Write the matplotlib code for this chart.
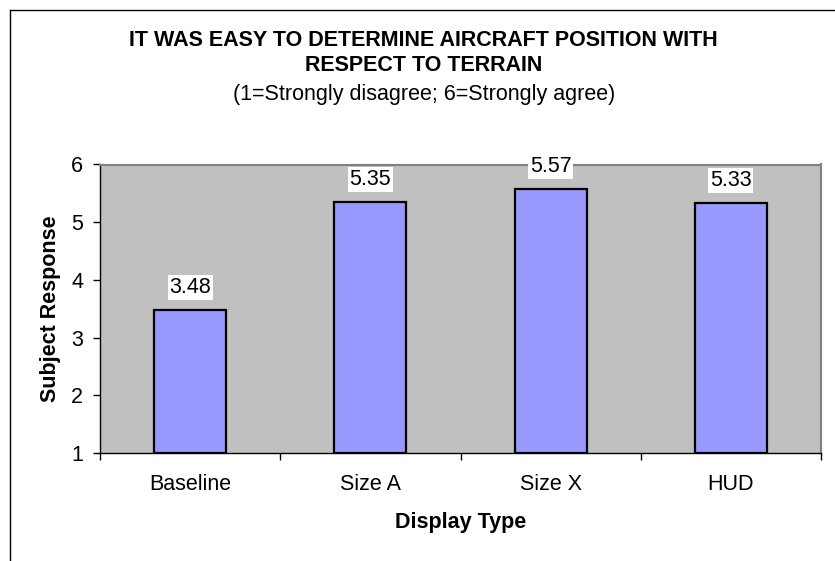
import matplotlib
matplotlib.use("Agg")
import matplotlib.pyplot as plt
from matplotlib.lines import Line2D

plt.rcParams['font.family'] = ['Liberation Sans', 'DejaVu Sans']

categories = ["Baseline", "Size A", "Size X", "HUD"]
values = [3.48, 5.35, 5.57, 5.33]
y_ticks = [1, 2, 3, 4, 5, 6]

FS = 15.5
W, H = 835, 561
fig = plt.figure(figsize=(W / 100, H / 100), dpi=100)
fig.patch.set_facecolor("white")

# outer chart frame (top and left edges visible)
fig.add_artist(Line2D([10 / W, 1.0], [1 - 10 / H, 1 - 10 / H], color="black", lw=1.0, transform=fig.transFigure))
fig.add_artist(Line2D([10 / W, 10 / W], [1 - 10 / H, 0.0], color="black", lw=1.0, transform=fig.transFigure))

left, right, top, bottom = 100, 821, 164.5, 453
ax = fig.add_axes([left / W, 1 - bottom / H, (right - left) / W, (bottom - top) / H])
ax.set_facecolor("#C0C0C0")

x = [i + 0.5 for i in range(len(categories))]
ax.bar(x, [v - 1 for v in values], bottom=1, width=0.4, color="#9999FF",
       edgecolor="black", linewidth=1.6, zorder=2)

ax.set_xlim(0, len(categories))
ax.set_ylim(1, 6)
ax.set_yticks(y_ticks)
ax.set_yticklabels([str(t) for t in y_ticks], fontsize=FS)

ax.set_xticks(range(len(categories) + 1))
ax.set_xticklabels([])
ax.set_xticks(x, minor=True)
ax.set_xticklabels(categories, minor=True, fontsize=FS)
ax.tick_params(axis="x", which="major", direction="out", length=5, width=1)
ax.tick_params(axis="x", which="minor", length=0, pad=15)
ax.tick_params(axis="y", direction="out", length=5, width=1, pad=7)

for s in ["left", "bottom"]:
    ax.spines[s].set_color("black")
    ax.spines[s].set_linewidth(1.0)
for s in ["top", "right"]:
    ax.spines[s].set_color("#808080")
    ax.spines[s].set_linewidth(1.5)

for xi, v in zip(x, values):
    ax.annotate(f"{v:.2f}", xy=(xi, v), xytext=(0, 17), textcoords="offset pixels",
                ha="center", va="baseline", fontsize=FS, zorder=5, annotation_clip=False,
                bbox=dict(boxstyle="square,pad=0.08", facecolor="white", edgecolor="none"))

ax.set_ylabel("Subject Response", fontsize=FS, fontweight="bold", labelpad=7.5)
ax.set_xlabel("Display Type", fontsize=FS, fontweight="bold", labelpad=12.5)

fig.text(423.5 / W, 1 - 45.7 / H, "IT WAS EASY TO DETERMINE AIRCRAFT POSITION WITH",
         ha="center", va="baseline", fontsize=FS, fontweight="bold")
fig.text(423.5 / W, 1 - 70.7 / H, "RESPECT TO TERRAIN",
         ha="center", va="baseline", fontsize=FS, fontweight="bold")
fig.text(424.5 / W, 1 - 100 / H, "(1=Strongly disagree; 6=Strongly agree)",
         ha="center", va="baseline", fontsize=FS)

fig.savefig("out.png", dpi=100)
